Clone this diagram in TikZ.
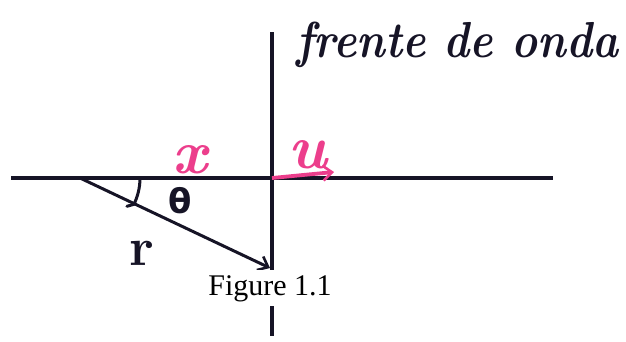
\documentclass[tikz,border=0pt]{standalone}
\usepackage{fontspec}
\newfontfamily\capfont{Liberation Serif}
\newfontfamily\greekfont{DejaVu Sans}
\usetikzlibrary{arrows,arrows.meta}
\usetikzlibrary{calc}
\definecolor{inkcol}{RGB}{22,20,38}
\definecolor{pinkcol}{RGB}{236,62,140}
\tikzset{>={Straight Barb[length=9pt,width=15pt,line width=2.6pt]}}
\tikzstyle{axis} = [line width = 3.6, color = inkcol]
\tikzstyle{vec} = [line width = 3.0, color = inkcol, ->]
\tikzstyle{pinkvec} = [line width = 3.8, color = pinkcol, ->]
\tikzstyle{hand} = [inner sep = 0pt, font = \bfseries\itshape\fontsize{62}{66}\selectfont]
\begin{document}
\begin{tikzpicture}[x=1pt,y=-1pt]
  \useasboundingbox (0,0) rectangle (626,341);
  \coordinate (W) at (11,178);
  \coordinate (E) at (553,178);
  \coordinate (N) at (272,32);
  \coordinate (S) at (272,336);
  \coordinate (O) at (272,178);
  \coordinate (A) at (80,178);
  \coordinate (P) at (270,268);
  \coordinate (U) at (334,172);

  % AXES
  \draw[axis] (W) -- (E);
  \draw[axis] (N) -- (S);

  % VECTORS
  \draw[vec] (A) -- (P);
  \draw[pinkvec] (O) -- (U);
  \draw[line width=3.0,inkcol,line cap=round] (A) ++(1:60) arc[start angle=1,end angle=26,radius=60]
    -- ++(-7,2);

  % LABELS
  \node[hand,inkcol,font=\bfseries\itshape\fontsize{44}{50}\selectfont,anchor=base west,
        transform shape,yscale=1.15] (front) at (296,57) {frente de onda};
  \node[hand,pinkcol] (xlab) at (190,160) {x};
  \node[hand,pinkcol] (ulab) at (308,155) {u};
  \node[hand,inkcol,font=\greekfont\bfseries\fontsize{34}{38}\selectfont] (theta) at (180,201) {θ};
  \node[hand,inkcol,font=\bfseries\fontsize{54}{60}\selectfont] (rlab) at (142,253) {r};
  \node[fill=white,inner xsep=2pt,inner ysep=5pt,anchor=base,
        font=\capfont\fontsize{30}{36}\selectfont] (cap) at (270,295) {Figure 1.1};
\end{tikzpicture}
\end{document}
